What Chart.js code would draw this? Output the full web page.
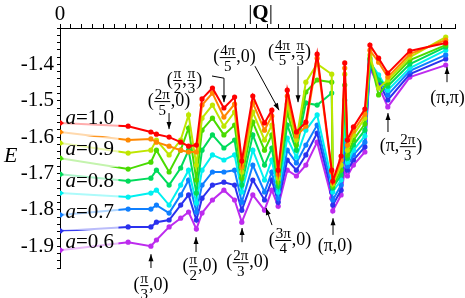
<!DOCTYPE html>
<html>
<head>
<meta charset="utf-8">
<script src="https://cdn.jsdelivr.net/npm/chart.js@4.4.1/dist/chart.umd.min.js"></script>
<style>
  html, body { margin: 0; padding: 0; background: #fff; }
</style>
</head>
<body>
<canvas id="chart" width="465" height="298"></canvas>
<script>
// |Q| of each momentum, shared by all curves
const qValues = [0, 0.785, 1.047, 1.111, 1.257, 1.39, 1.481, 1.571, 1.636, 1.756, 1.888, 2.011, 2.094,
  2.221, 2.356, 2.44, 2.513, 2.618, 2.723, 2.832, 2.962, 3.13, 3.142, 3.238, 3.28, 3.311, 3.38,
  3.512, 3.57, 3.67, 3.776, 4.03, 4.443];

// energies, one list per value of a
const eA10 = [-1.561,-1.570,-1.586,-1.592,-1.600,-1.614,-1.625,-1.622,-1.495,-1.465,-1.520,-1.490,-1.666,
  -1.487,-1.561,-1.526,-1.691,-1.471,-1.586,-1.559,-1.372,-1.691,-1.721,-1.652,-1.396,-1.608,-1.572,
  -1.523,-1.347,-1.383,-1.424,-1.363,-1.341];
const eA095 = [-1.586,-1.608,-1.605,-1.614,-1.625,-1.636,-1.641,-1.641,-1.512,-1.479,-1.545,-1.509,-1.682,
  -1.506,-1.581,-1.542,-1.702,-1.487,-1.597,-1.570,-1.383,-1.696,-1.724,-1.663,-1.410,-1.622,-1.583,
  -1.537,-1.361,-1.394,-1.435,-1.372,-1.333];
const eA09 = [-1.616,-1.644,-1.636,-1.608,-1.649,-1.608,-1.539,-1.677,-1.548,-1.512,-1.570,-1.531,-1.696,
  -1.531,-1.608,-1.567,-1.713,-1.509,-1.608,-1.449,-1.399,-1.427,-1.729,-1.677,-1.427,-1.636,-1.594,
  -1.548,-1.374,-1.465,-1.443,-1.380,-1.325];
const eA085 = [-1.658,-1.688,-1.669,-1.636,-1.696,-1.636,-1.575,-1.718,-1.581,-1.548,-1.594,-1.567,-1.713,
  -1.559,-1.636,-1.594,-1.724,-1.531,-1.622,-1.476,-1.443,-1.449,-1.735,-1.691,-1.457,-1.649,-1.608,
  -1.564,-1.383,-1.484,-1.451,-1.388,-1.347];
const eA08 = [-1.702,-1.721,-1.713,-1.691,-1.732,-1.685,-1.636,-1.754,-1.636,-1.594,-1.630,-1.608,-1.732,
  -1.594,-1.677,-1.630,-1.735,-1.567,-1.636,-1.506,-1.512,-1.479,-1.740,-1.704,-1.498,-1.658,-1.622,
  -1.581,-1.388,-1.443,-1.460,-1.399,-1.352];
const eA075 = [-1.754,-1.765,-1.754,-1.746,-1.787,-1.732,-1.691,-1.781,-1.691,-1.649,-1.663,-1.649,-1.751,
  -1.636,-1.718,-1.663,-1.751,-1.603,-1.655,-1.581,-1.539,-1.718,-1.751,-1.718,-1.553,-1.669,-1.636,
  -1.597,-1.394,-1.429,-1.471,-1.410,-1.361];
const eA07 = [-1.814,-1.798,-1.798,-1.787,-1.809,-1.759,-1.718,-1.806,-1.732,-1.696,-1.696,-1.691,-1.779,
  -1.677,-1.751,-1.696,-1.768,-1.636,-1.671,-1.622,-1.567,-1.735,-1.773,-1.732,-1.608,-1.680,-1.649,
  -1.614,-1.399,-1.438,-1.484,-1.418,-1.374];
const eA065 = [-1.858,-1.847,-1.847,-1.834,-1.828,-1.787,-1.759,-1.828,-1.768,-1.732,-1.724,-1.732,-1.801,
  -1.718,-1.773,-1.718,-1.779,-1.663,-1.691,-1.649,-1.589,-1.751,-1.787,-1.746,-1.649,-1.691,-1.663,
  -1.627,-1.405,-1.449,-1.498,-1.427,-1.385];
const eA06 = [-1.911,-1.889,-1.900,-1.883,-1.847,-1.823,-1.806,-1.853,-1.809,-1.773,-1.746,-1.773,-1.834,
  -1.759,-1.801,-1.746,-1.790,-1.691,-1.707,-1.677,-1.614,-1.768,-1.803,-1.759,-1.691,-1.707,-1.677,
  -1.641,-1.410,-1.460,-1.517,-1.435,-1.402];

const aValues = ['1.0', '0.95', '0.9', '0.85', '0.8', '0.75', '0.7', '0.65', '0.6'];
const series = [eA10, eA095, eA09, eA085, eA08, eA075, eA07, eA065, eA06];
const colors = ['hsl(0,100%,50%)', 'hsl(32,100%,50%)', 'hsl(70,100%,45%)', 'hsl(100,100%,43%)',
  'hsl(145,100%,43%)', 'hsl(180,100%,47%)', 'hsl(212,100%,53%)', 'hsl(238,85%,55%)', 'hsl(285,85%,55%)'];

const yTicks = [-1.4, -1.5, -1.6, -1.7, -1.8, -1.9];

// "a=" labels on the left: which a, and at what energy
const aLabelText = ['1.0', '0.9', '0.8', '0.7', '0.6'];
const aLabelE = [-1.548, -1.633, -1.721, -1.806, -1.891];

// momentum labels; a string part is plain text, a pair is a fraction
const notes = [
  {parts: ['(', ['π', '3'], ',0)'], at: [1.048, -2.007], from: [1.048, -1.960], to: [1.048, -1.922]},
  {parts: ['(', ['π', '2'], ',0)'], at: [1.613, -1.955], from: [1.567, -1.916], to: [1.567, -1.875]},
  {parts: ['(', ['2π', '3'], ',0)'], at: [2.160, -1.944], from: [2.097, -1.889], to: [2.097, -1.850]},
  {parts: ['(', ['3π', '4'], ',0)'], at: [2.649, -1.883], from: [2.442, -1.842], to: [2.373, -1.795]},
  {parts: ['(π,0)'], at: [3.168, -1.900], from: [3.145, -1.869], to: [3.145, -1.823]},
  {parts: ['(π,', ['2π', '3'], ')'], at: [3.928, -1.625], from: [3.778, -1.586], to: [3.778, -1.534]},
  {parts: ['(π,π)'], at: [4.464, -1.493], from: [4.458, -1.449], to: [4.458, -1.407]},
  {parts: ['(', ['2π', '5'], ',0)'], at: [1.256, -1.501], from: [1.256, -1.534], to: [1.256, -1.578]},
  {parts: ['(', ['π', '2'], ',', ['π', '3'], ')'], at: [1.434, -1.443], from: [1.751, -1.432],
    via: [1.889, -1.438], to: [1.889, -1.504]},
  {parts: ['(', ['4π', '5'], ',0)'], at: [2.010, -1.380], from: [2.246, -1.405], to: [2.523, -1.526]},
  {parts: ['(', ['4π', '5'], ',', ['π', '3'], ')'], at: [2.644, -1.366], from: [2.742, -1.405], to: [2.742, -1.504]}
];

const SERIF = '"Liberation Serif", "DejaVu Serif", serif';

function drawParts(ctx, parts, cx, cy) {
  const big = '18px ' + SERIF, small = '15px ' + SERIF;
  const widths = parts.map(p => {
    if (typeof p === 'string') { ctx.font = big; return ctx.measureText(p).width; }
    ctx.font = small;
    return Math.max(ctx.measureText(p[0]).width, ctx.measureText(p[1]).width) + 2;
  });
  let x = cx - widths.reduce((a, b) => a + b, 0) / 2;
  parts.forEach((p, i) => {
    if (typeof p === 'string') {
      ctx.font = big; ctx.textAlign = 'left'; ctx.textBaseline = 'middle';
      ctx.fillText(p, x, cy);
    } else {
      const mx = x + widths[i] / 2;
      ctx.font = small; ctx.textAlign = 'center';
      ctx.textBaseline = 'alphabetic';
      ctx.fillText(p[0], mx, cy - 2);
      ctx.textBaseline = 'top';
      ctx.fillText(p[1], mx, cy + 2);
      ctx.beginPath();
      ctx.moveTo(x + 0.5, cy + 0.5); ctx.lineTo(x + widths[i] - 0.5, cy + 0.5);
      ctx.lineWidth = 1; ctx.stroke();
    }
    x += widths[i];
  });
}

function drawArrow(ctx, pts) {
  ctx.beginPath();
  ctx.moveTo(pts[0][0], pts[0][1]);
  for (let i = 1; i < pts.length; i++) ctx.lineTo(pts[i][0], pts[i][1]);
  ctx.lineWidth = 1; ctx.stroke();
  const [x1, y1] = pts[pts.length - 2], [x2, y2] = pts[pts.length - 1];
  const ang = Math.atan2(y2 - y1, x2 - x1);
  ctx.beginPath();
  ctx.moveTo(x2, y2);
  ctx.lineTo(x2 - 7 * Math.cos(ang) + 2.5 * Math.sin(ang), y2 - 7 * Math.sin(ang) - 2.5 * Math.cos(ang));
  ctx.lineTo(x2 - 7 * Math.cos(ang) - 2.5 * Math.sin(ang), y2 - 7 * Math.sin(ang) + 2.5 * Math.cos(ang));
  ctx.closePath(); ctx.fill();
}

const labelPlugin = {
  id: 'labelPlugin',
  afterDatasetsDraw(chart) {
    const {ctx, scales: {x, y}, chartArea} = chart;
    ctx.save();
    // a= labels sit on a pale box that washes out the lines behind them
    aLabelText.forEach((t, i) => {
      const px = x.getPixelForValue(0.04), py = y.getPixelForValue(aLabelE[i]);
      ctx.fillStyle = 'rgba(255,255,255,0.68)';
      ctx.fillRect(px, py - 12, 55, 30);
      ctx.fillStyle = '#000';
      ctx.textBaseline = 'middle'; ctx.textAlign = 'left';
      ctx.font = 'italic 21px ' + SERIF;
      ctx.fillText('a', px + 2, py);
      const w = ctx.measureText('a').width;
      ctx.font = '21px ' + SERIF;
      ctx.fillText('=' + t, px + 2 + w, py);
    });

    ctx.fillStyle = '#000'; ctx.strokeStyle = '#000';
    notes.forEach(n => {
      const pts = [n.from, n.via, n.to].filter(Boolean)
        .map(p => [x.getPixelForValue(p[0]), y.getPixelForValue(p[1])]);
      drawArrow(ctx, pts);
      drawParts(ctx, n.parts, x.getPixelForValue(n.at[0]), y.getPixelForValue(n.at[1]));
    });

    // axis titles and the lone "0" on the top axis
    ctx.textBaseline = 'middle'; ctx.textAlign = 'center';
    ctx.font = '21px ' + SERIF;
    ctx.fillText('0', x.getPixelForValue(0), 14);
    ctx.textAlign = 'left';
    ctx.font = 'italic 22px ' + SERIF;
    ctx.fillText('E', 4, 156);
    ctx.font = '21px ' + SERIF;
    const bar = ctx.measureText('|').width;
    ctx.font = 'bold 21px ' + SERIF;
    const qw = ctx.measureText('Q').width;
    let tx = (chartArea.left + chartArea.right) / 2 + 3 - (qw + 2 * bar) / 2;
    ctx.font = '21px ' + SERIF;
    ctx.fillText('|', tx, 13);
    ctx.font = 'bold 21px ' + SERIF;
    ctx.fillText('Q', tx + bar, 14);
    ctx.font = '21px ' + SERIF;
    ctx.fillText('|', tx + bar + qw, 13);
    ctx.restore();
  }
};

new Chart(document.getElementById('chart'), {
  type: 'scatter',
  data: {
    datasets: series.map((vals, i) => ({
      label: 'a=' + aValues[i],
      data: qValues.map((q, k) => ({x: q, y: vals[k]})),
      borderColor: colors[i],
      backgroundColor: colors[i],
      showLine: true,
      borderWidth: 2,
      pointRadius: 2.6,
      pointBorderWidth: 0
    }))
  },
  options: {
    responsive: false,
    animation: false,
    devicePixelRatio: 1,
    layout: {padding: {left: 0, right: 10, top: 0, bottom: 30}},
    plugins: {legend: {display: false}, tooltip: {enabled: false}},
    scales: {
      x: {
        type: 'linear', position: 'top', min: 0, max: 4.55,
        afterFit: s => { s.height = 28; },
        border: {color: '#000', width: 1},
        grid: {drawOnChartArea: false, tickLength: 4, color: '#000'},
        ticks: {
          stepSize: Math.PI / 25, autoSkip: false, maxRotation: 0,
          font: {family: SERIF, size: 21},
          callback: () => ''
        }
      },
      y: {
        type: 'linear', min: -1.96, max: -1.30,
        afterFit: s => { s.width = 60; },
        border: {color: '#000', width: 1},
        grid: {drawOnChartArea: false, tickLength: 3, color: '#000'},
        ticks: {
          stepSize: 0.02, autoSkip: false, maxTicksLimit: 100, padding: 3,
          color: '#000', font: {family: SERIF, size: 21},
          callback: v => {
            const hit = yTicks.find(t => Math.abs(t - v) < 1e-6);
            return hit === undefined ? '' : hit.toFixed(1);
          }
        }
      }
    }
  },
  plugins: [labelPlugin]
});
</script>
</body>
</html>
